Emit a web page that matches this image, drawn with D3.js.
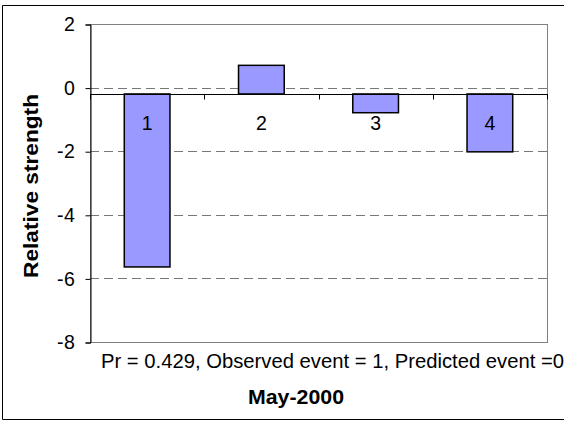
<!DOCTYPE html>
<html>
<head>
<meta charset="utf-8">
<script src="https://cdn.jsdelivr.net/npm/d3@7"></script>
<style>
  html, body { margin: 0; padding: 0; background: #fff; }
  svg { display: block; }
  text { font-family: "Liberation Sans", Arial, sans-serif; fill: #000; }
</style>
</head>
<body>
<svg id="chart" width="564" height="421"></svg>
<script>
// Relative strength per event, May-2000
const categories = ["1", "2", "3", "4"];
const strengths = [-5.64, 0.70, -0.79, -2.02];
const yTicks = [2, 0, -2, -4, -6, -8];
const gridValues = [0, -2, -4, -6];
const axisCrossing = -0.2;
const yTitle = "Relative strength";
const xTitle = "May-2000";
const noteText = "Pr = 0.429, Observed event = 1, Predicted event =0";

const svg = d3.select("#chart");
const plot = { left: 90, right: 547, top: 24, bottom: 342 };

const x = d3.scaleBand()
  .domain(categories)
  .range([plot.left, plot.right])
  .paddingInner(0.6)
  .paddingOuter(0.3);

const y = d3.scaleLinear()
  .domain([-8, 2])
  .range([plot.bottom, plot.top]);

// outer chart frame (open on the right)
svg.append("path")
  .attr("d", `M564,5.5 H2.5 V419.5 H564`)
  .attr("fill", "none")
  .attr("stroke", "#000")
  .attr("stroke-width", 1);

// plot area border
svg.append("rect")
  .attr("x", plot.left + 0.5)
  .attr("y", plot.top + 0.5)
  .attr("width", plot.right - plot.left)
  .attr("height", plot.bottom - plot.top)
  .attr("fill", "none")
  .attr("stroke", "#808080")
  .attr("stroke-width", 1);

// dashed gridlines
svg.append("g")
  .selectAll("line")
  .data(gridValues)
  .join("line")
  .attr("x1", plot.left)
  .attr("x2", plot.right)
  .attr("y1", d => Math.round(y(d)) + 0.5)
  .attr("y2", d => Math.round(y(d)) + 0.5)
  .attr("stroke", "#777")
  .attr("stroke-width", 1)
  .attr("stroke-dasharray", "9,5");

// bars grow from the category axis crossing
svg.append("g")
  .selectAll("rect")
  .data(strengths)
  .join("rect")
  .attr("x", (d, i) => x(categories[i]))
  .attr("width", x.bandwidth())
  .attr("y", d => y(Math.max(d, axisCrossing)))
  .attr("height", d => Math.abs(y(d) - y(axisCrossing)))
  .attr("fill", "#9999FF")
  .attr("stroke", "#000")
  .attr("stroke-width", 1.5);

// value axis
const yAxis = d3.axisLeft(y)
  .tickValues(yTicks)
  .tickFormat(d3.format("d"))
  .tickSize(5)
  .tickPadding(10);
const yg = svg.append("g")
  .attr("transform", `translate(${plot.left + 0.5},0.5)`)
  .call(yAxis);
yg.select(".domain").attr("stroke", "#000");
yg.selectAll(".tick line").attr("stroke", "#000");
yg.selectAll(".tick text")
  .attr("font-size", 19.5)
  .attr("font-family", null)
  .attr("letter-spacing", 0.6)
  .text(d => d < 0 ? "-" + Math.abs(d) : d);

// category axis at the crossing value, tick marks between categories
const crossY = Math.round(y(axisCrossing)) + 0.5;
const step = x.step();
const xg = svg.append("g");
xg.append("line")
  .attr("x1", plot.left)
  .attr("x2", plot.right + 1)
  .attr("y1", crossY)
  .attr("y2", crossY)
  .attr("stroke", "#000");
xg.selectAll("line.tk")
  .data(d3.range(categories.length + 1))
  .join("line")
  .attr("class", "tk")
  .attr("x1", i => Math.round(plot.left + i * step) + 0.5)
  .attr("x2", i => Math.round(plot.left + i * step) + 0.5)
  .attr("y1", crossY)
  .attr("y2", crossY + 5)
  .attr("stroke", "#000");
xg.selectAll("text")
  .data(categories)
  .join("text")
  .attr("x", d => x(d) + x.bandwidth() / 2)
  .attr("y", crossY + 35)
  .attr("text-anchor", "middle")
  .attr("font-size", 19.5)
  .text(d => d);

// note line under the plot
svg.append("text")
  .attr("x", 101)
  .attr("y", 368)
  .attr("font-size", 19.5)
  .attr("textLength", 463)
  .attr("lengthAdjust", "spacingAndGlyphs")
  .text(noteText);

// axis titles
svg.append("text")
  .attr("x", 296)
  .attr("y", 404)
  .attr("text-anchor", "middle")
  .attr("font-size", 19.5)
  .attr("font-weight", "bold")
  .attr("textLength", 96)
  .attr("lengthAdjust", "spacingAndGlyphs")
  .text(xTitle);

svg.append("text")
  .attr("transform", `translate(38,186) rotate(-90)`)
  .attr("text-anchor", "middle")
  .attr("font-size", 19.5)
  .attr("font-weight", "bold")
  .attr("textLength", 184)
  .attr("lengthAdjust", "spacingAndGlyphs")
  .text(yTitle);
</script>
</body>
</html>
